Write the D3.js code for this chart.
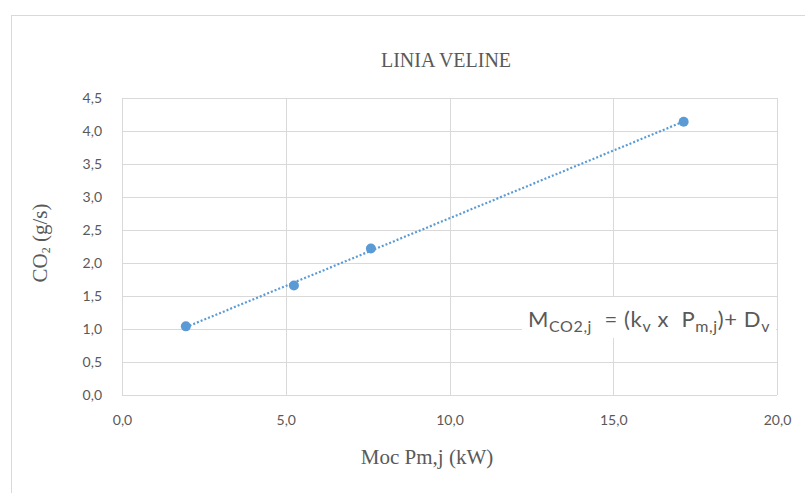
<!DOCTYPE html>
<meta charset="utf-8">
<script src="https://d3js.org/d3.v7.min.js"></script>
<style>
  body { margin: 0; background: #fff; }
</style>
<div id="chart"></div>
<script>
// data
var powerKW = [1.95, 5.25, 7.6, 17.15];
var co2 = [1.04, 1.66, 2.22, 4.14];
var xTicks = [0, 5, 10, 15, 20];
var yTicks = [0, 0.5, 1, 1.5, 2, 2.5, 3, 3.5, 4, 4.5];

var W = 805, H = 493;
var plot = {left: 122, right: 777, top: 98, bottom: 395};
var grid = "#d9d9d9", txt = "#595959", blue = "#5b9bd5";

var svg = d3.select("#chart").append("svg")
    .attr("width", W).attr("height", H);

// outer chart frame
svg.append("rect")
    .attr("x", 11.5).attr("y", 15.5)
    .attr("width", 900).attr("height", 600)
    .attr("fill", "#fff").attr("stroke", grid);

var x = d3.scaleLinear().domain([0, 20]).range([plot.left, plot.right]);
var y = d3.scaleLinear().domain([0, 4.5]).range([plot.bottom, plot.top]);
var fmt = d => d.toFixed(1).replace(".", ",");

// gridlines
svg.append("g").selectAll("line").data(yTicks).join("line")
    .attr("x1", plot.left).attr("x2", plot.right)
    .attr("y1", d => Math.round(y(d)) + 0.5).attr("y2", d => Math.round(y(d)) + 0.5)
    .attr("stroke", grid);
svg.append("g").selectAll("line").data(xTicks).join("line")
    .attr("x1", d => Math.round(x(d)) + 0.5).attr("x2", d => Math.round(x(d)) + 0.5)
    .attr("y1", plot.top).attr("y2", plot.bottom)
    .attr("stroke", grid);

// tick labels via axes, with the domain and tick lines removed
var xAxis = svg.append("g")
    .attr("transform", "translate(0," + plot.bottom + ")")
    .call(d3.axisBottom(x).tickValues(xTicks).tickFormat(fmt).tickSize(0).tickPadding(20));
var yAxis = svg.append("g")
    .attr("transform", "translate(" + plot.left + ",0)")
    .call(d3.axisLeft(y).tickValues(yTicks).tickFormat(fmt).tickSize(0).tickPadding(20));
[xAxis, yAxis].forEach(function(a) {
  a.select(".domain").remove();
  a.selectAll("text").attr("fill", txt)
    .style("font-family", "Lato, sans-serif").style("font-size", "14px");
});

// linear trendline (least squares over the points)
var mx = d3.mean(powerKW), my = d3.mean(co2);
var k = d3.sum(powerKW, (v, i) => (v - mx) * (co2[i] - my)) / d3.sum(powerKW, v => (v - mx) * (v - mx));
var b = my - k * mx;
var xs = d3.extent(powerKW);
svg.append("line")
    .attr("x1", x(xs[0])).attr("y1", y(k * xs[0] + b))
    .attr("x2", x(xs[1])).attr("y2", y(k * xs[1] + b))
    .attr("stroke", blue).attr("stroke-width", 2.2)
    .attr("stroke-dasharray", "2,2");

// points
svg.append("g").selectAll("circle").data(powerKW).join("circle")
    .attr("cx", d => x(d)).attr("cy", (d, i) => y(co2[i]))
    .attr("r", 5).attr("fill", blue);

// equation box
svg.append("rect")
    .attr("x", 522).attr("y", 297).attr("width", 254).attr("height", 41)
    .attr("fill", "#fff");
var eq = svg.append("text")
    .attr("x", 528).attr("y", 327)
    .attr("fill", txt)
    .style("font-family", "Lato, sans-serif").style("font-size", "22px")
    .style("letter-spacing", "0.6px");
var sub = "16px";
eq.append("tspan").text("M");
eq.append("tspan").attr("dy", 5).style("font-size", sub).text("CO2,j");
eq.append("tspan").attr("dy", -5).text("\u00a0 = (k");
eq.append("tspan").attr("dy", 5).style("font-size", sub).text("v");
eq.append("tspan").attr("dy", -5).text(" x \u00a0P");
eq.append("tspan").attr("dy", 5).style("font-size", sub).text("m,j");
eq.append("tspan").attr("dy", -5).text(")+ D");
eq.append("tspan").attr("dy", 5).style("font-size", sub).text("v");

// title and axis titles
var serif = "'Liberation Serif', 'DejaVu Serif', serif";
svg.append("text")
    .attr("x", 446).attr("y", 67).attr("text-anchor", "middle")
    .attr("fill", txt).style("font-family", serif).style("font-size", "20px")
    .text("LINIA VELINE");

svg.append("text")
    .attr("x", 427).attr("y", 464).attr("text-anchor", "middle")
    .attr("fill", txt).style("font-family", serif).style("font-size", "21px")
    .text("Moc Pm,j (kW)");

var yl = svg.append("text")
    .attr("transform", "translate(47,243) rotate(-90)")
    .attr("text-anchor", "middle")
    .attr("fill", txt).style("font-family", serif).style("font-size", "21px");
yl.append("tspan").text("CO");
yl.append("tspan").attr("dy", 3).style("font-size", "12px").text("2");
yl.append("tspan").attr("dy", -3).text(" (g/s)");
</script>
